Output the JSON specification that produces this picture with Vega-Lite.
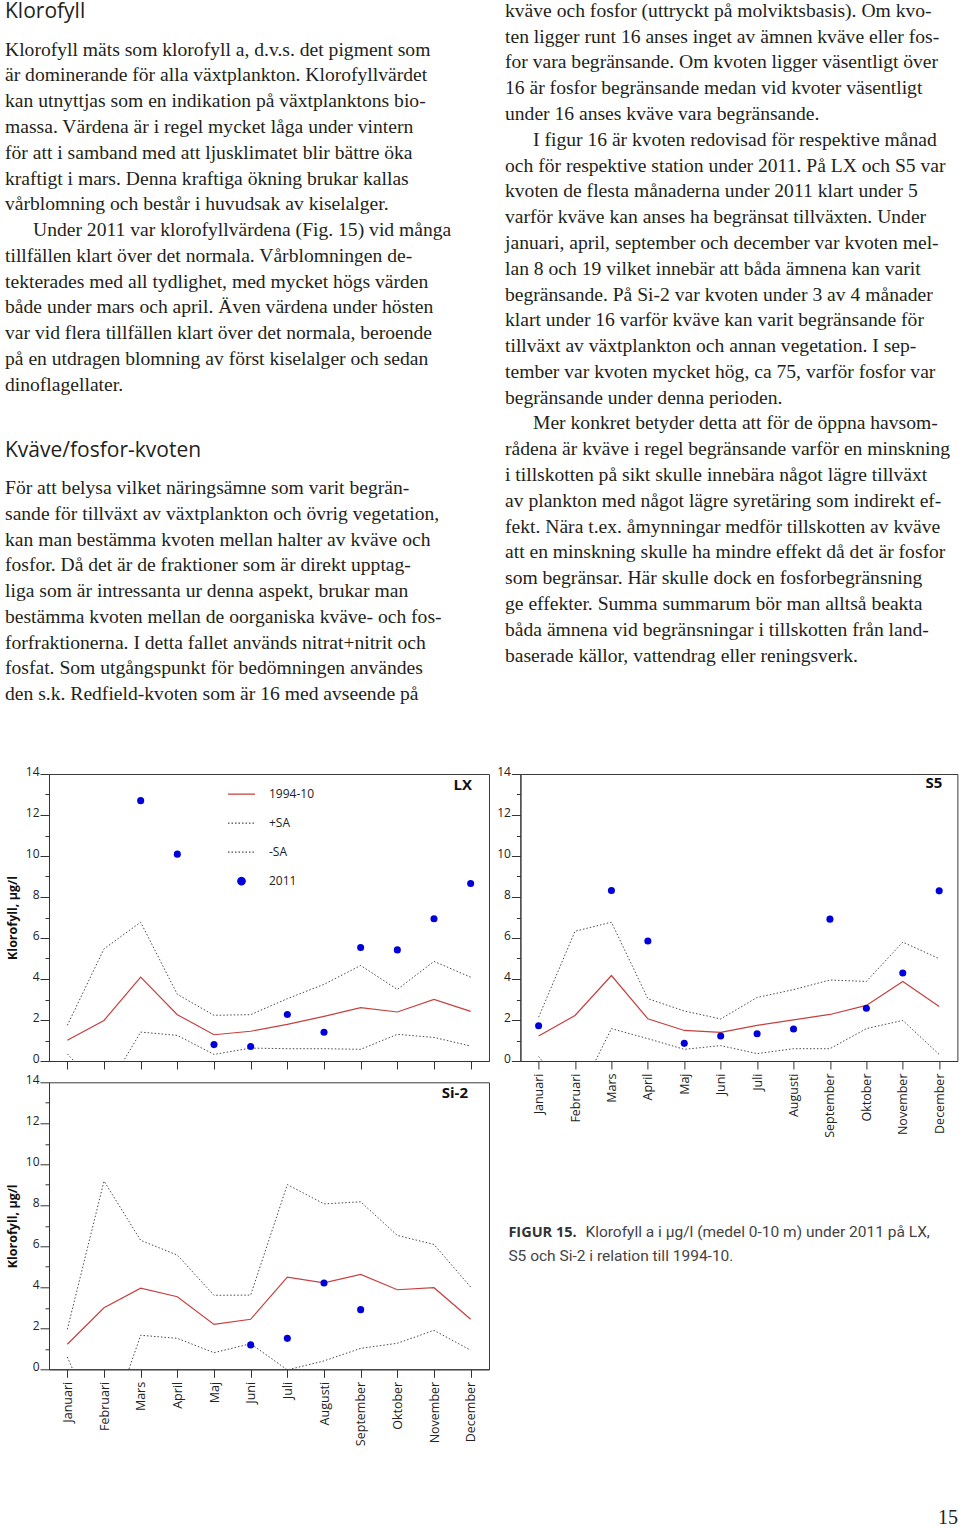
{
  "$schema": "https://vega.github.io/schema/vega-lite/v6.json",
  "padding": {"left": 5, "top": 0, "right": 2, "bottom": 5},
  "background": "white",
  "config": {
    "view": {"stroke": null},
    "font": "Open Sans",
    "axis": {"grid": false, "domainColor": "#333333", "tickColor": "#333333", "labelColor": "#222222", "titleColor": "#111111", "labelFont": "Open Sans", "titleFont": "Open Sans"},
    "axisY": {"labelBaseline": "alphabetic", "labelOffset": 1}
  },
  "title": {"text": "15", "orient": "bottom", "anchor": "end", "frame": "bounds", "offset": 62, "font": "Liberation Serif", "fontSize": 20, "fontWeight": "normal", "color": "#231f20"},
  "datasets": {
    "txt": [
      {"k": "v", "n": 1, "typ": "rubrik", "t": "Klorofyll"},
      {"k": "v", "n": 2, "typ": "brod", "t": "Klorofyll mäts som klorofyll a, d.v.s. det pigment som"},
      {"k": "v", "n": 3, "typ": "brod", "t": "är dominerande för alla växtplankton. Klorofyllvärdet"},
      {"k": "v", "n": 4, "typ": "brod", "t": "kan utnyttjas som en indikation på växtplanktons bio-"},
      {"k": "v", "n": 5, "typ": "brod", "t": "massa. Värdena är i regel mycket låga under vintern"},
      {"k": "v", "n": 6, "typ": "brod", "t": "för att i samband med att ljusklimatet blir bättre öka"},
      {"k": "v", "n": 7, "typ": "brod", "t": "kraftigt i mars. Denna kraftiga ökning brukar kallas"},
      {"k": "v", "n": 8, "typ": "brod", "t": "vårblomning och består i huvudsak av kiselalger."},
      {"k": "v", "n": 9, "typ": "stycke", "t": "Under 2011 var klorofyllvärdena (Fig. 15) vid många"},
      {"k": "v", "n": 10, "typ": "brod", "t": "tillfällen klart över det normala. Vårblomningen de-"},
      {"k": "v", "n": 11, "typ": "brod", "t": "tekterades med all tydlighet, med mycket högs värden"},
      {"k": "v", "n": 12, "typ": "brod", "t": "både under mars och april. Även värdena under hösten"},
      {"k": "v", "n": 13, "typ": "brod", "t": "var vid flera tillfällen klart över det normala, beroende"},
      {"k": "v", "n": 14, "typ": "brod", "t": "på en utdragen blomning av först kiselalger och sedan"},
      {"k": "v", "n": 15, "typ": "brod", "t": "dinoflagellater."},
      {"k": "v", "n": 18, "typ": "rubrik", "t": "Kväve/fosfor-kvoten"},
      {"k": "v", "n": 19, "typ": "brod", "t": "För att belysa vilket näringsämne som varit begrän-"},
      {"k": "v", "n": 20, "typ": "brod", "t": "sande för tillväxt av växtplankton och övrig vegetation,"},
      {"k": "v", "n": 21, "typ": "brod", "t": "kan man bestämma kvoten mellan halter av kväve och"},
      {"k": "v", "n": 22, "typ": "brod", "t": "fosfor. Då det är de fraktioner som är direkt upptag-"},
      {"k": "v", "n": 23, "typ": "brod", "t": "liga som är intressanta ur denna aspekt, brukar man"},
      {"k": "v", "n": 24, "typ": "brod", "t": "bestämma kvoten mellan de oorganiska kväve- och fos-"},
      {"k": "v", "n": 25, "typ": "brod", "t": "forfraktionerna. I detta fallet används nitrat+nitrit och"},
      {"k": "v", "n": 26, "typ": "brod", "t": "fosfat. Som utgångspunkt för bedömningen användes"},
      {"k": "v", "n": 27, "typ": "brod", "t": "den s.k. Redfield-kvoten som är 16 med avseende på"},
      {"k": "h", "n": 1, "typ": "brod", "t": "kväve och fosfor (uttryckt på molviktsbasis). Om kvo-"},
      {"k": "h", "n": 2, "typ": "brod", "t": "ten ligger runt 16 anses inget av ämnen kväve eller fos-"},
      {"k": "h", "n": 3, "typ": "brod", "t": "for vara begränsande. Om kvoten ligger väsentligt över"},
      {"k": "h", "n": 4, "typ": "brod", "t": "16 är fosfor begränsande medan vid kvoter väsentligt"},
      {"k": "h", "n": 5, "typ": "brod", "t": "under 16 anses kväve vara begränsande."},
      {"k": "h", "n": 6, "typ": "stycke", "t": "I figur 16 är kvoten redovisad för respektive månad"},
      {"k": "h", "n": 7, "typ": "brod", "t": "och för respektive station under 2011. På LX och S5 var"},
      {"k": "h", "n": 8, "typ": "brod", "t": "kvoten de flesta månaderna under 2011 klart under 5"},
      {"k": "h", "n": 9, "typ": "brod", "t": "varför kväve kan anses ha begränsat tillväxten. Under"},
      {"k": "h", "n": 10, "typ": "brod", "t": "januari, april, september och december var kvoten mel-"},
      {"k": "h", "n": 11, "typ": "brod", "t": "lan 8 och 19 vilket innebär att båda ämnena kan varit"},
      {"k": "h", "n": 12, "typ": "brod", "t": "begränsande. På Si-2 var kvoten under 3 av 4 månader"},
      {"k": "h", "n": 13, "typ": "brod", "t": "klart under 16 varför kväve kan varit begränsande för"},
      {"k": "h", "n": 14, "typ": "brod", "t": "tillväxt av växtplankton och annan vegetation. I sep-"},
      {"k": "h", "n": 15, "typ": "brod", "t": "tember var kvoten mycket hög, ca 75, varför fosfor var"},
      {"k": "h", "n": 16, "typ": "brod", "t": "begränsande under denna perioden."},
      {"k": "h", "n": 17, "typ": "stycke", "t": "Mer konkret betyder detta att för de öppna havsom-"},
      {"k": "h", "n": 18, "typ": "brod", "t": "rådena är kväve i regel begränsande varför en minskning"},
      {"k": "h", "n": 19, "typ": "brod", "t": "i tillskotten på sikt skulle innebära något lägre tillväxt"},
      {"k": "h", "n": 20, "typ": "brod", "t": "av plankton med något lägre syretäring som indirekt ef-"},
      {"k": "h", "n": 21, "typ": "brod", "t": "fekt. Nära t.ex. åmynningar medför tillskotten av kväve"},
      {"k": "h", "n": 22, "typ": "brod", "t": "att en minskning skulle ha mindre effekt då det är fosfor"},
      {"k": "h", "n": 23, "typ": "brod", "t": "som begränsar. Här skulle dock en fosforbegränsning"},
      {"k": "h", "n": 24, "typ": "brod", "t": "ge effekter. Summa summarum bör man alltså beakta"},
      {"k": "h", "n": 25, "typ": "brod", "t": "båda ämnena vid begränsningar i tillskotten från land-"},
      {"k": "h", "n": 26, "typ": "brod", "t": "baserade källor, vattendrag eller reningsverk."}
    ],
    "fig": [
      {"rad": 1, "del": "fet", "t": "FIGUR 15."},
      {"rad": 1, "del": "text", "t": "Klorofyll a i µg/l (medel 0-10 m) under 2011 på LX,"},
      {"rad": 2, "del": "text", "t": "S5 och Si-2 i relation till 1994-10."}
    ],
    "kl": [
      {"st": "LX", "man": "Januari", "medel": 1.01, "plus": 1.74, "minus": 0.35, "obs": null},
      {"st": "LX", "man": "Februari", "medel": 1.98, "plus": 5.47, "minus": -1.6, "obs": null},
      {"st": "LX", "man": "Mars", "medel": 4.09, "plus": 6.77, "minus": 1.41, "obs": 12.7},
      {"st": "LX", "man": "April", "medel": 2.26, "plus": 3.25, "minus": 1.25, "obs": 10.09},
      {"st": "LX", "man": "Maj", "medel": 1.28, "plus": 2.23, "minus": 0.32, "obs": 0.8},
      {"st": "LX", "man": "Juni", "medel": 1.45, "plus": 2.26, "minus": 0.63, "obs": 0.71},
      {"st": "LX", "man": "Juli", "medel": 1.79, "plus": 3.04, "minus": 0.6, "obs": 2.27},
      {"st": "LX", "man": "Augusti", "medel": 2.18, "plus": 3.74, "minus": 0.6, "obs": 1.4},
      {"st": "LX", "man": "September", "medel": 2.6, "plus": 4.66, "minus": 0.57, "obs": 5.54},
      {"st": "LX", "man": "Oktober", "medel": 2.39, "plus": 3.49, "minus": 1.3, "obs": 5.42},
      {"st": "LX", "man": "November", "medel": 3.0, "plus": 4.86, "minus": 1.15, "obs": 6.94},
      {"st": "LX", "man": "December", "medel": 2.42, "plus": 4.09, "minus": 0.73, "obs": 8.66},
      {"st": "S5", "man": "Januari", "medel": 1.22, "plus": 2.14, "minus": 0.22, "obs": 1.72},
      {"st": "S5", "man": "Februari", "medel": 2.22, "plus": 6.33, "minus": -2.0, "obs": null},
      {"st": "S5", "man": "Mars", "medel": 4.17, "plus": 6.77, "minus": 1.58, "obs": 8.32},
      {"st": "S5", "man": "April", "medel": 2.06, "plus": 3.04, "minus": 1.09, "obs": 5.85},
      {"st": "S5", "man": "Maj", "medel": 1.49, "plus": 2.44, "minus": 0.57, "obs": 0.86},
      {"st": "S5", "man": "Juni", "medel": 1.4, "plus": 2.05, "minus": 0.75, "obs": 1.22},
      {"st": "S5", "man": "Juli", "medel": 1.74, "plus": 3.1, "minus": 0.36, "obs": 1.33},
      {"st": "S5", "man": "Augusti", "medel": 2.01, "plus": 3.48, "minus": 0.6, "obs": 1.56},
      {"st": "S5", "man": "September", "medel": 2.27, "plus": 3.95, "minus": 0.6, "obs": 6.92},
      {"st": "S5", "man": "Oktober", "medel": 2.71, "plus": 3.88, "minus": 1.58, "obs": 2.57},
      {"st": "S5", "man": "November", "medel": 3.88, "plus": 5.8, "minus": 1.98, "obs": 4.29},
      {"st": "S5", "man": "December", "medel": 2.66, "plus": 4.99, "minus": 0.32, "obs": 8.3},
      {"st": "Si-2", "man": "Januari", "medel": 1.22, "plus": 1.95, "minus": 0.6, "obs": null},
      {"st": "Si-2", "man": "Februari", "medel": 3.0, "plus": 9.18, "minus": -3.5, "obs": null},
      {"st": "Si-2", "man": "Mars", "medel": 3.96, "plus": 6.29, "minus": 1.66, "obs": null},
      {"st": "Si-2", "man": "April", "medel": 3.54, "plus": 5.57, "minus": 1.51, "obs": null},
      {"st": "Si-2", "man": "Maj", "medel": 2.19, "plus": 3.61, "minus": 0.81, "obs": null},
      {"st": "Si-2", "man": "Juni", "medel": 2.44, "plus": 3.62, "minus": 1.25, "obs": 1.19},
      {"st": "Si-2", "man": "Juli", "medel": 4.5, "plus": 9.01, "minus": -0.03, "obs": 1.51},
      {"st": "Si-2", "man": "Augusti", "medel": 4.22, "plus": 8.07, "minus": 0.41, "obs": 4.21},
      {"st": "Si-2", "man": "September", "medel": 4.63, "plus": 8.17, "minus": 1.02, "obs": 2.91},
      {"st": "Si-2", "man": "Oktober", "medel": 3.88, "plus": 6.53, "minus": 1.27, "obs": null},
      {"st": "Si-2", "man": "November", "medel": 3.98, "plus": 6.09, "minus": 1.9, "obs": null},
      {"st": "Si-2", "man": "December", "medel": 2.44, "plus": 4.01, "minus": 0.93, "obs": null}
    ]
  },
  "resolve": {"scale": {"color": "independent"}, "legend": {"color": "independent"}},
  "spacing": 38,
  "vconcat": [
    {
      "width": 900,
      "height": 722,
      "data": {"name": "txt"},
      "encoding": {
        "x": {"field": "k", "type": "nominal", "scale": {"type": "point", "domain": ["v", "h"], "range": [-44, 456], "padding": 0}, "axis": null},
        "y": {"field": "n", "type": "quantitative", "scale": {"domain": [0, 28], "reverse": true, "nice": false, "zero": false}, "axis": null},
        "text": {"field": "t", "type": "nominal"}
      },
      "layer": [
        {"transform": [{"filter": "datum.typ === 'rubrik'"}], "mark": {"type": "text", "align": "left", "baseline": "alphabetic", "font": "Open Sans", "fontSize": 21, "dy": -11.6, "color": "#231f20"}},
        {"transform": [{"filter": "datum.typ === 'brod' && datum.k === 'v'"}], "mark": {"type": "text", "align": "left", "baseline": "alphabetic", "font": "Liberation Serif", "fontSize": 19.6, "color": "#231f20"}},
        {"transform": [{"filter": "datum.typ === 'stycke' && datum.k === 'v'"}], "mark": {"type": "text", "align": "left", "baseline": "alphabetic", "dx": 28, "font": "Liberation Serif", "fontSize": 19.6, "color": "#231f20"}},
        {"transform": [{"filter": "datum.typ === 'brod' && datum.k === 'h'"}], "mark": {"type": "text", "align": "left", "baseline": "alphabetic", "font": "Liberation Serif", "fontSize": 19.6, "dy": -12.9, "color": "#231f20"}},
        {"transform": [{"filter": "datum.typ === 'stycke' && datum.k === 'h'"}], "mark": {"type": "text", "align": "left", "baseline": "alphabetic", "dx": 28, "font": "Liberation Serif", "fontSize": 19.6, "dy": -12.9, "color": "#231f20"}}
      ]
    },
    {
      "columns": 2,
      "bounds": "flush",
      "spacing": {"row": 21.3, "column": 31.4},
      "resolve": {"scale": {"color": "independent"}, "legend": {"color": "independent"}},
      "concat": [
        {
          "width": 440,
          "height": 287,
          "view": {"stroke": "#3c3c3c", "strokeWidth": 1},
          "title": {"text": "LX", "anchor": "end", "frame": "group", "dx": -17, "dy": 8, "offset": -32, "baseline": "alphabetic", "font": "Open Sans", "fontSize": 15, "fontWeight": "bold", "color": "#111111"},
          "data": {"name": "kl"},
          "transform": [
            {"filter": "datum.st === 'LX'"},
            {"fold": ["medel", "plus", "minus", "obs"], "as": ["serie", "v"]},
            {"filter": "isValid(datum.v)"}
          ],
          "encoding": {
            "x": {"field": "man", "type": "ordinal", "scale": {"type": "point", "padding": 0.5, "domain": ["Januari", "Februari", "Mars", "April", "Maj", "Juni", "Juli", "Augusti", "September", "Oktober", "November", "December"]}, "axis": {"title": null, "labels": false, "tickSize": 8}},
            "y": {"field": "v", "type": "quantitative", "scale": {"domain": [0, 14], "nice": false, "zero": false}, "axis": {"title": "Klorofyll, µg/l", "values": [0, 1, 2, 3, 4, 5, 6, 7, 8, 9, 10, 11, 12, 13, 14], "labelExpr": "datum.value % 2 === 0 ? datum.label : ''", "tickSize": {"condition": {"test": "datum.value % 2 === 0", "value": 9}, "value": 4}, "labelPadding": 1, "labelFontSize": 12, "titleFontSize": 12.5, "titleFontWeight": "bold", "titlePadding": 6, "labelOverlap": false, "labelFlush": false}},
            "color": {"field": "serie", "type": "nominal", "scale": {"domain": ["medel", "plus", "minus", "obs"], "range": ["#c6403f", "#4a4a4a", "#4a4a4a", "#0000dd"]},
              "legend": {"orient": "none", "legendX": 178, "legendY": 6, "title": null, "padding": 0, "symbolSize": 729, "clipHeight": 28.3, "rowPadding": 0, "labelOffset": 13, "labelFont": "Open Sans", "labelFontSize": 12, "labelColor": "#222222",
                "labelExpr": "datum.value === 'medel' ? '1994-10' : datum.value === 'plus' ? '+SA' : datum.value === 'minus' ? '-SA' : '2011'",
                "encode": {"symbols": {"update": {
                  "shape": {"signal": "datum.value === 'obs' ? 'circle' : 'stroke'"},
                  "size": {"signal": "datum.value === 'obs' ? 55 : 729"},
                  "strokeDash": {"signal": "datum.value === 'plus' || datum.value === 'minus' ? [1.5, 2] : [1, 0]"},
                  "fill": {"signal": "datum.value === 'obs' ? '#0000dd' : 'transparent'"},
                  "stroke": {"signal": "datum.value === 'obs' ? 'transparent' : datum.value === 'medel' ? '#c6403f' : '#4a4a4a'"},
                  "strokeWidth": {"value": 1.2},
                  "opacity": {"value": 1}
                }}}}}
          },
          "layer": [
            {"transform": [{"filter": "datum.serie === 'medel'"}], "mark": {"type": "line", "clip": true, "strokeWidth": 1.2}},
            {"transform": [{"filter": "datum.serie === 'plus' || datum.serie === 'minus'"}], "mark": {"type": "line", "clip": true, "strokeWidth": 1, "strokeDash": [1.5, 2]}},
            {"transform": [{"filter": "datum.serie === 'obs'"}], "mark": {"type": "point", "filled": true, "size": 50, "opacity": 1}}
          ]
        },
        {
          "width": 437,
          "height": 287,
          "view": {"stroke": "#3c3c3c", "strokeWidth": 1},
          "title": {"text": "S5", "anchor": "end", "frame": "group", "dx": -15, "dy": 8, "offset": -30, "baseline": "alphabetic", "font": "Open Sans", "fontSize": 15, "fontWeight": "bold", "color": "#111111"},
          "data": {"name": "kl"},
          "transform": [
            {"filter": "datum.st === 'S5'"},
            {"fold": ["medel", "plus", "minus", "obs"], "as": ["serie", "v"]},
            {"filter": "isValid(datum.v)"}
          ],
          "encoding": {
            "x": {"field": "man", "type": "ordinal", "scale": {"type": "point", "padding": 0.5, "domain": ["Januari", "Februari", "Mars", "April", "Maj", "Juni", "Juli", "Augusti", "September", "Oktober", "November", "December"]}, "axis": {"title": null, "labelAngle": -90, "tickSize": 8, "labelPadding": 4, "labelFontSize": 12.5}},
            "y": {"field": "v", "type": "quantitative", "scale": {"domain": [0, 14], "nice": false, "zero": false}, "axis": {"title": null, "values": [0, 1, 2, 3, 4, 5, 6, 7, 8, 9, 10, 11, 12, 13, 14], "labelExpr": "datum.value % 2 === 0 ? datum.label : ''", "tickSize": {"condition": {"test": "datum.value % 2 === 0", "value": 9}, "value": 4}, "labelPadding": 1, "labelFontSize": 12, "labelOverlap": false, "labelFlush": false}},
            "color": {"field": "serie", "type": "nominal", "scale": {"domain": ["medel", "plus", "minus", "obs"], "range": ["#c6403f", "#4a4a4a", "#4a4a4a", "#0000dd"]}, "legend": null}
          },
          "layer": [
            {"transform": [{"filter": "datum.serie === 'medel'"}], "mark": {"type": "line", "clip": true, "strokeWidth": 1.2}},
            {"transform": [{"filter": "datum.serie === 'plus' || datum.serie === 'minus'"}], "mark": {"type": "line", "clip": true, "strokeWidth": 1, "strokeDash": [1.5, 2]}},
            {"transform": [{"filter": "datum.serie === 'obs'"}], "mark": {"type": "point", "filled": true, "size": 50, "opacity": 1}}
          ]
        },
        {
          "width": 440,
          "height": 287,
          "view": {"stroke": "#3c3c3c", "strokeWidth": 1},
          "title": {"text": "Si-2", "anchor": "end", "frame": "group", "dx": -21, "dy": 8, "offset": -32, "baseline": "alphabetic", "font": "Open Sans", "fontSize": 15, "fontWeight": "bold", "color": "#111111"},
          "data": {"name": "kl"},
          "transform": [
            {"filter": "datum.st === 'Si-2'"},
            {"fold": ["medel", "plus", "minus", "obs"], "as": ["serie", "v"]},
            {"filter": "isValid(datum.v)"}
          ],
          "encoding": {
            "x": {"field": "man", "type": "ordinal", "scale": {"type": "point", "padding": 0.5, "domain": ["Januari", "Februari", "Mars", "April", "Maj", "Juni", "Juli", "Augusti", "September", "Oktober", "November", "December"]}, "axis": {"title": null, "labelAngle": -90, "tickSize": 8, "labelPadding": 4, "labelFontSize": 12.5}},
            "y": {"field": "v", "type": "quantitative", "scale": {"domain": [0, 14], "nice": false, "zero": false}, "axis": {"title": "Klorofyll, µg/l", "values": [0, 1, 2, 3, 4, 5, 6, 7, 8, 9, 10, 11, 12, 13, 14], "labelExpr": "datum.value % 2 === 0 ? datum.label : ''", "tickSize": {"condition": {"test": "datum.value % 2 === 0", "value": 9}, "value": 4}, "labelPadding": 1, "labelFontSize": 12, "titleFontSize": 12.5, "titleFontWeight": "bold", "titlePadding": 6, "labelOverlap": false, "labelFlush": false}},
            "color": {"field": "serie", "type": "nominal", "scale": {"domain": ["medel", "plus", "minus", "obs"], "range": ["#c6403f", "#4a4a4a", "#4a4a4a", "#0000dd"]}, "legend": null}
          },
          "layer": [
            {"transform": [{"filter": "datum.serie === 'medel'"}], "mark": {"type": "line", "clip": true, "strokeWidth": 1.2}},
            {"transform": [{"filter": "datum.serie === 'plus' || datum.serie === 'minus'"}], "mark": {"type": "line", "clip": true, "strokeWidth": 1, "strokeDash": [1.5, 2]}},
            {"transform": [{"filter": "datum.serie === 'obs'"}], "mark": {"type": "point", "filled": true, "size": 50, "opacity": 1}}
          ]
        },
        {
          "width": 437,
          "height": 287,
          "data": {"name": "fig"},
          "encoding": {
            "x": {"datum": 0, "type": "quantitative", "scale": {"domain": [0, 1], "nice": false, "zero": false}, "axis": null},
            "y": {"field": "rad", "type": "quantitative", "scale": {"domain": [-5.458, 6.5], "reverse": true, "nice": false, "zero": false}, "axis": null},
            "text": {"field": "t", "type": "nominal"}
          },
          "layer": [
            {"transform": [{"filter": "datum.del === 'fet'"}], "mark": {"type": "text", "align": "left", "baseline": "alphabetic", "dx": -12, "font": "Open Sans", "fontSize": 14.5, "fontWeight": "bold", "color": "#333333"}},
            {"transform": [{"filter": "datum.del === 'text' && datum.rad === 1"}], "mark": {"type": "text", "align": "left", "baseline": "alphabetic", "dx": 65, "font": "Roboto", "fontSize": 15.5, "color": "#444444"}},
            {"transform": [{"filter": "datum.del === 'text' && datum.rad === 2"}], "mark": {"type": "text", "align": "left", "baseline": "alphabetic", "dx": -12, "font": "Roboto", "fontSize": 15.5, "color": "#444444"}}
          ]
        }
      ]
    }
  ]
}
